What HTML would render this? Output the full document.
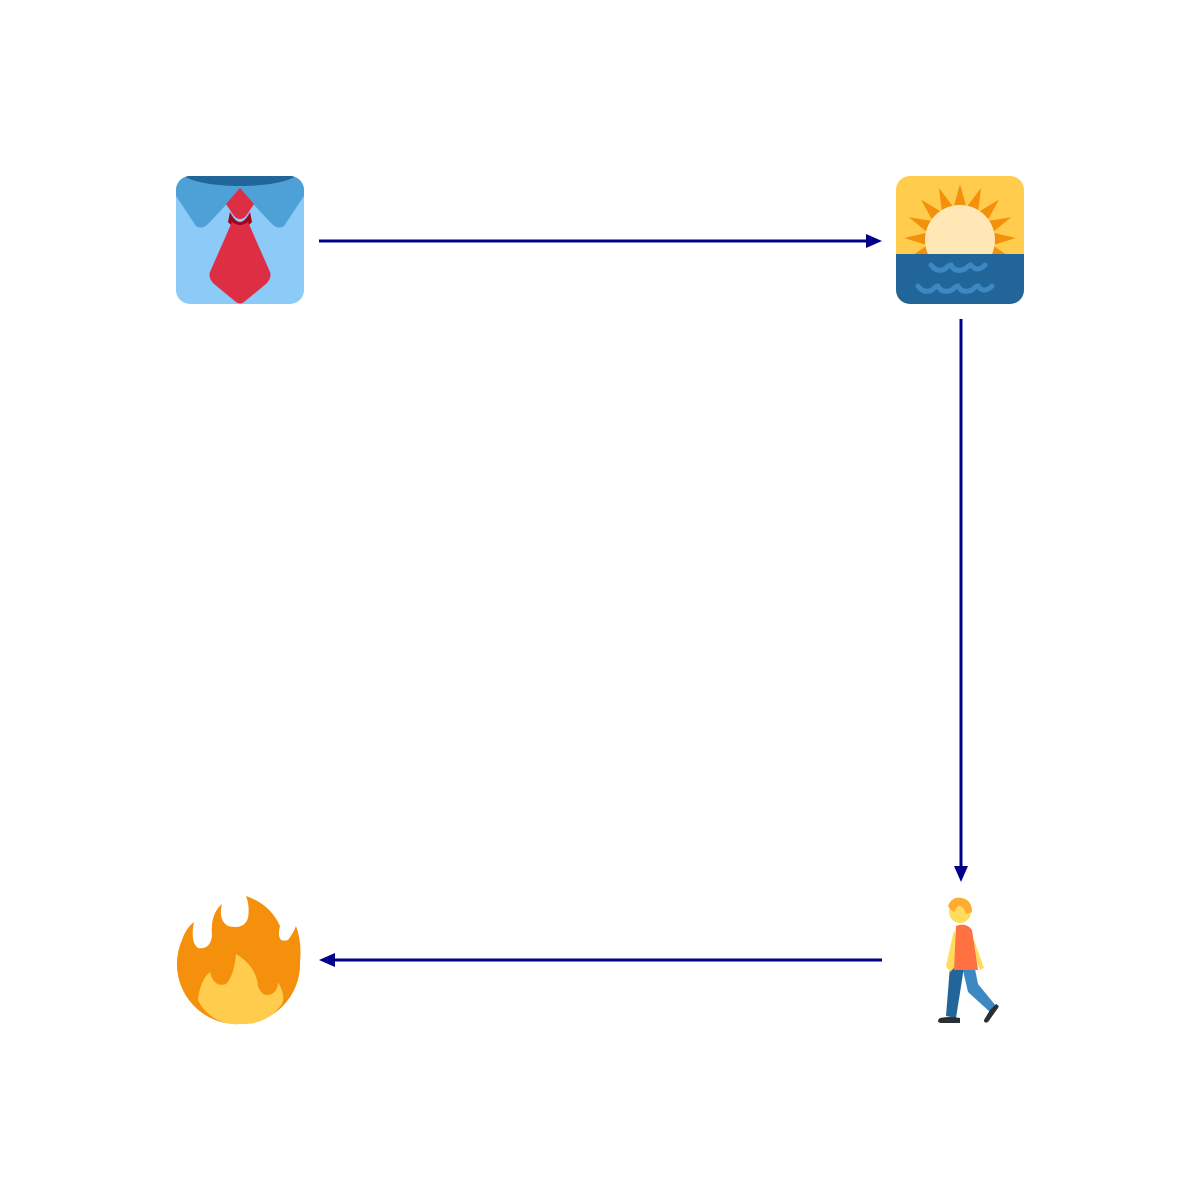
<!DOCTYPE html>
<html><head><meta charset="utf-8"><style>html,body{margin:0;padding:0;background:#fff}svg{display:block}</style></head>
<body>
<svg width="1200" height="1200" viewBox="0 0 1200 1200" xmlns="http://www.w3.org/2000/svg">
<defs>
<clipPath id="c1"><rect x="176" y="176" width="128" height="128" rx="14"/></clipPath>
<clipPath id="c2"><rect x="896" y="176" width="128" height="128" rx="14"/></clipPath>
</defs>
<!-- shirt -->
<g clip-path="url(#c1)">
<rect x="176" y="176" width="128" height="128" fill="#8ccaf7"/>
<path d="M176 176 H304 V196 L284 226 Q278 230 272 224 L240 190 L208 224 Q202 230 196 226 L176 196 Z" fill="#4ea1d6"/>
<ellipse cx="240" cy="172" rx="58" ry="14" fill="#226699"/>
<path d="M240 188 L254 204 L246 216 Q240 222 234 216 L226 204 Z" fill="#dd2e44"/>
<path d="M230 212 Q240 232 250 212 L252 222 Q240 236 228 222 Z" fill="#a0041e"/>
<path d="M232 222 Q240 228 248 222 L270 272 Q272 278 266 284 L244 302 Q240 305 236 302 L214 284 Q208 278 210 272 Z" fill="#dd2e44"/>
</g>
<!-- sunrise -->
<g clip-path="url(#c2)">
<rect x="896" y="176" width="128" height="128" fill="#ffcc4d"/>
<g fill="#f4900c" transform="translate(960 240)">
<polygon points="0,-56 6,-34 -6,-34"/><polygon points="0,-56 6,-34 -6,-34" transform="rotate(22)"/><polygon points="0,-56 6,-34 -6,-34" transform="rotate(44)"/><polygon points="0,-56 6,-34 -6,-34" transform="rotate(66)"/><polygon points="0,-56 6,-34 -6,-34" transform="rotate(88)"/><polygon points="0,-56 6,-34 -6,-34" transform="rotate(110)"/><polygon points="0,-56 6,-34 -6,-34" transform="rotate(-22)"/><polygon points="0,-56 6,-34 -6,-34" transform="rotate(-44)"/><polygon points="0,-56 6,-34 -6,-34" transform="rotate(-66)"/><polygon points="0,-56 6,-34 -6,-34" transform="rotate(-88)"/><polygon points="0,-56 6,-34 -6,-34" transform="rotate(-110)"/>
</g>
<circle cx="960" cy="240" r="35" fill="#ffe8b6"/>
<rect x="896" y="254" width="128" height="50" fill="#226699"/>
<path d="M931 265 q6 8 14 4 q4-4 6-4 q4 8 14 4 q4-4 6-4 q6 8 14 0 M918 286 q6 8 14 4 q4-4 6-4 q4 8 14 4 q4-4 6-4 q4 8 14 4 q4-4 6-4 q6 8 14 0" fill="none" stroke="#3b88c3" stroke-width="5" stroke-linecap="round"/>
</g>
<!-- fire -->
<path d="M240 1024 A60 60 0 0 1 182 940 Q186 928 194 922 Q190 942 198 948 Q210 950 212 936 Q210 914 222 904 Q218 920 228 926 Q244 930 248 918 Q250 906 246 896 Q270 904 280 926 Q276 944 288 940 Q294 932 296 926 Q302 942 300 962 A60 60 0 0 1 240 1024 Z" fill="#f4900c"/>
<path d="M240 1024 A42 42 0 0 1 198 1000 Q200 980 210 972 Q214 988 226 984 Q234 976 236 954 Q256 966 258 986 Q262 998 272 994 Q278 990 278 982 Q286 996 282 1004 A46 46 0 0 1 240 1024 Z" fill="#ffcc4d"/>
<!-- walker -->
<g>
<path d="M962 966 L968 992 L990 1012 L996 1006 L978 984 L974 964 Z" fill="#3b88c3"/>
<path d="M950 966 L946 1016 L956 1018 L962 980 L964 966 Z" fill="#226699"/>
<path d="M940 1018 Q950 1016 960 1018 L960 1023 L940 1023 Q936 1021 940 1018 Z" fill="#292f33"/>
<path d="M990 1010 L996 1004 Q1000 1006 998 1008 L988 1022 Q984 1024 984 1020 Z" fill="#292f33"/>
<path d="M974 940 L984 968 L980 970 L970 946 Z" fill="#ffdc5d"/>
<path d="M954 930 L946 966 L950 972 L956 966 L958 942 Z" fill="#ffdc5d"/>
<path d="M956 926 Q966 922 972 930 L978 970 L954 970 Z" fill="#ff7043"/>
<circle cx="960" cy="912" r="11" fill="#ffdc5d"/>
<path d="M948 906 Q952 896 962 898 Q972 900 972 912 L966 914 Q964 906 958 906 L954 912 Q950 910 948 906 Z" fill="#ffac33"/>
</g>
<!-- arrows -->
<g stroke="#00008b" stroke-width="3" fill="none">
<line x1="319" y1="241" x2="868" y2="241"/>
<line x1="961" y1="319" x2="961" y2="868"/>
<line x1="882" y1="960" x2="333" y2="960"/>
</g>
<g fill="#00008b">
<polygon points="882,241 866,234 866,248"/>
<polygon points="961,882 954,866 968,866"/>
<polygon points="319,960 335,953 335,967"/>
</g>
</svg>
</body></html>
